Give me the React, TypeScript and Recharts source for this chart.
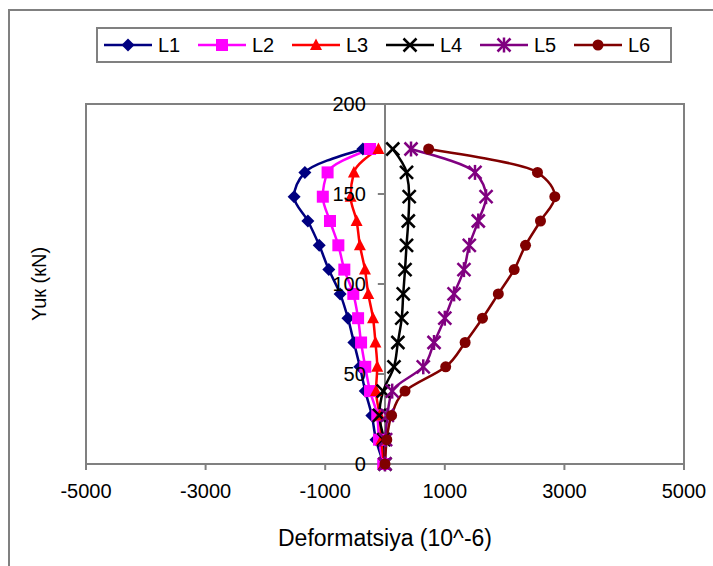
import { Line, LineChart, ReferenceArea, ReferenceLine, XAxis, YAxis } from "recharts";

const FONT = '"Liberation Sans", Arial, sans-serif';

// load steps (kN) and strain readings for each gauge (10^-6)
const loads = [0, 13.5, 27, 40.5, 54, 67.5, 81, 94.5, 108, 121.5, 135, 148.5, 162, 175];
const L1 = [-20, -150, -220, -330, -420, -520, -620, -750, -940, -1100, -1290, -1520, -1340, -370];
const L2 = [-30, -100, -130, -250, -330, -400, -450, -530, -680, -780, -920, -1040, -960, -250];
const L3 = [-20, -60, -90, -150, -130, -160, -200, -280, -335, -420, -475, -575, -520, -110];
const L4 = [0, -20, -95, -30, 150, 215, 280, 305, 335, 360, 390, 405, 360, 130];
const L5 = [0, 10, 40, 120, 640, 820, 1000, 1155, 1320, 1410, 1560, 1690, 1505, 435];
const L6 = [0, 30, 110, 335, 1015, 1340, 1630, 1895, 2160, 2350, 2600, 2840, 2550, 730];

const xTicks = [-5000, -3000, -1000, 1000, 3000, 5000];
const yTicks = [0, 50, 100, 150, 200];

const data = loads.map((load, i) => ({
  load,
  L1: L1[i],
  L2: L2[i],
  L3: L3[i],
  L4: L4[i],
  L5: L5[i],
  L6: L6[i]
}));

type MarkerKind = "diamond" | "square" | "triangle" | "cross" | "star" | "circle";

const series: { key: string; color: string; marker: MarkerKind }[] = [
  { key: "L1", color: "#000080", marker: "diamond" },
  { key: "L2", color: "#FF00FF", marker: "square" },
  { key: "L3", color: "#FF0000", marker: "triangle" },
  { key: "L4", color: "#000000", marker: "cross" },
  { key: "L5", color: "#800080", marker: "star" },
  { key: "L6", color: "#800000", marker: "circle" }
];

function Marker({ kind, cx, cy, color }: { kind: MarkerKind; cx: number; cy: number; color: string }) {
  if (cx == null || cy == null) return null;
  switch (kind) {
    case "diamond":
      return <polygon points={`${cx},${cy - 6.5} ${cx + 6.5},${cy} ${cx},${cy + 6.5} ${cx - 6.5},${cy}`} fill={color} />;
    case "square":
      return <rect x={cx - 6} y={cy - 6} width={12} height={12} fill={color} />;
    case "triangle":
      return <polygon points={`${cx},${cy - 6.5} ${cx + 6},${cy + 5} ${cx - 6},${cy + 5}`} fill={color} />;
    case "cross":
      return (
        <g stroke={color} strokeWidth={2.5}>
          <line x1={cx - 6.5} y1={cy - 6.5} x2={cx + 6.5} y2={cy + 6.5} />
          <line x1={cx - 6.5} y1={cy + 6.5} x2={cx + 6.5} y2={cy - 6.5} />
        </g>
      );
    case "star":
      return (
        <g stroke={color} strokeWidth={2.5}>
          <line x1={cx - 6.5} y1={cy - 6.5} x2={cx + 6.5} y2={cy + 6.5} />
          <line x1={cx - 6.5} y1={cy + 6.5} x2={cx + 6.5} y2={cy - 6.5} />
          <line x1={cx} y1={cy - 7.5} x2={cx} y2={cy + 7.5} />
        </g>
      );
    default:
      return <circle cx={cx} cy={cy} r={5.5} fill={color} />;
  }
}

function YTitle(props: any) {
  const vb = props.viewBox;
  const x = vb.x + 31;
  const y = vb.y + vb.height / 2;
  return (
    <text x={x} y={y} transform={`rotate(-90, ${x}, ${y})`} textAnchor="middle" dominantBaseline="central" fontSize={20} fill="#000">
      Yuк (кN)
    </text>
  );
}

export default function App() {
  return (
    <div
      style={{
        position: "absolute",
        left: 0,
        top: 0,
        width: 713,
        height: 566,
        overflow: "hidden",
        background: "#fff",
        fontFamily: FONT
      }}
    >
      <div
        style={{
          position: "absolute",
          left: 8,
          top: 9,
          width: 760,
          height: 620,
          border: "2px solid #808080",
          boxSizing: "border-box"
        }}
      />
      <div style={{ position: "absolute", left: 0, top: 0 }}>
        <LineChart
          width={713}
          height={566}
          data={data}
          layout="vertical"
          margin={{ top: 104, right: 29, bottom: 42, left: 8 }}
        >
          <XAxis
            type="number"
            domain={[-5000, 5000]}
            ticks={xTicks}
            interval={0}
            height={60}
            axisLine={{ stroke: "#808080", strokeWidth: 2 }}
            tickLine={{ stroke: "#808080", strokeWidth: 2 }}
            tickSize={6}
            tickMargin={14}
            tick={{ fill: "#000", fontSize: 20 }}
            label={{ value: "Deformatsiya (10^-6)", position: "bottom", offset: 6, fill: "#000", fontSize: 23 }}
          />
          <YAxis
            type="number"
            dataKey="load"
            domain={[0, 200]}
            reversed
            width={78}
            axisLine={false}
            tickLine={false}
            tick={false}
            label={{ content: YTitle }}
          />
          <ReferenceArea x1={-5000} x2={5000} y1={0} y2={200} fill="none" stroke="#808080" strokeWidth={2} />
          <ReferenceLine x={0} stroke="#808080" strokeWidth={2} />
          {yTicks.map((v) => (
            <ReferenceLine
              key={v}
              segment={[
                { x: -120, y: v },
                { x: 0, y: v }
              ]}
              stroke="#808080"
              strokeWidth={2}
              ifOverflow="visible"
              label={{ value: String(v), position: "left", offset: 12, fill: "#000", fontSize: 20 }}
            />
          ))}
          {series.map((s) => (
            <Line
              key={s.key}
              dataKey={s.key}
              type="monotoneY"
              stroke={s.color}
              strokeWidth={2.5}
              isAnimationActive={false}
              activeDot={false}
              dot={(p: any) => (
                <Marker key={`${s.key}-${p.index}`} kind={s.marker} cx={p.cx} cy={p.cy} color={s.color} />
              )}
            />
          ))}
        </LineChart>
      </div>
      <div
        style={{
          position: "absolute",
          left: 96,
          top: 27,
          width: 576,
          height: 36,
          boxSizing: "border-box",
          border: "2px solid #808080",
          background: "#fff",
          display: "flex",
          alignItems: "center",
          paddingLeft: 6
        }}
      >
        {series.map((s) => (
          <div key={s.key} style={{ display: "flex", alignItems: "center", width: 94 }}>
            <svg width={48} height={20}>
              <line x1={0} y1={10} x2={48} y2={10} stroke={s.color} strokeWidth={2.5} />
              <Marker kind={s.marker} cx={24} cy={10} color={s.color} />
            </svg>
            <span style={{ marginLeft: 6, fontSize: 20, lineHeight: "20px" }}>{s.key}</span>
          </div>
        ))}
      </div>
    </div>
  );
}
